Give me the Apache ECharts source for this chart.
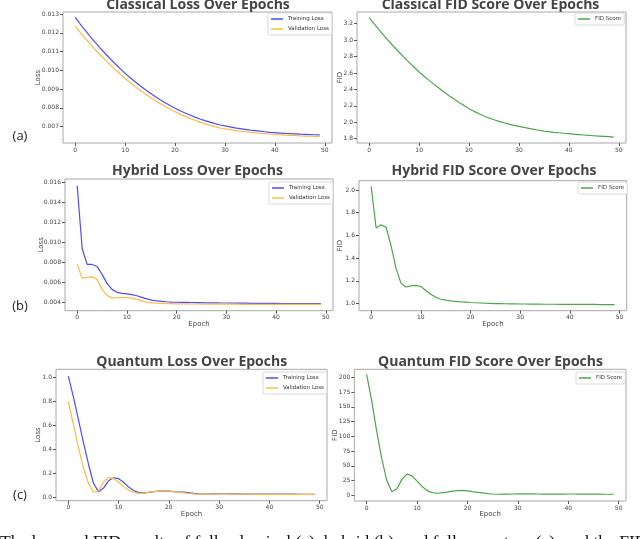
<!DOCTYPE html>
<html>
<head>
<meta charset="utf-8">
<script src="https://cdn.jsdelivr.net/npm/echarts@6/dist/echarts.min.js"></script>
<style>
  html, body { margin: 0; padding: 0; background: #fff; }
  #chart { width: 640px; height: 539px; }
</style>
</head>
<body>
<div id="chart"></div>
<script>
// epochs 0..49
const epochs = [0,1,2,3,4,5,6,7,8,9,10,11,12,13,14,15,16,17,18,19,20,21,22,23,24,
  25,26,27,28,29,30,31,32,33,34,35,36,37,38,39,40,41,42,43,44,45,46,47,48,49];

// (a) classical
const classicalTrainLoss = [0.01282,0.01247,0.01213,0.01180,0.01149,0.01119,0.01090,0.01062,0.01035,0.01009,
  0.00984,0.00961,0.00939,0.00918,0.00898,0.00879,0.00861,0.00844,0.00828,0.00813,
  0.00798,0.00785,0.00773,0.00762,0.00751,0.00741,0.00732,0.00724,0.00716,0.00709,
  0.00704,0.00699,0.00694,0.00690,0.00686,0.00682,0.00679,0.00676,0.00673,0.00670,
  0.00668,0.00666,0.00664,0.00663,0.00662,0.00660,0.00659,0.00658,0.00657,0.00656];
const classicalValLoss = [0.01236,0.01203,0.01171,0.01140,0.01111,0.01083,0.01056,0.01030,0.01005,0.00981,
  0.00957,0.00935,0.00914,0.00894,0.00875,0.00857,0.00840,0.00824,0.00809,0.00794,
  0.00780,0.00767,0.00755,0.00744,0.00734,0.00724,0.00715,0.00707,0.00700,0.00693,
  0.00688,0.00684,0.00680,0.00676,0.00673,0.00670,0.00667,0.00665,0.00663,0.00661,
  0.00659,0.00657,0.00655,0.00654,0.00653,0.00651,0.00650,0.00649,0.00648,0.00647];
const classicalFid = [3.273,3.198,3.125,3.053,2.983,2.916,2.852,2.790,2.729,2.670,
  2.612,2.560,2.510,2.461,2.414,2.368,2.324,2.282,2.242,2.203,
  2.165,2.133,2.104,2.077,2.052,2.030,2.011,1.994,1.978,1.963,
  1.950,1.937,1.925,1.914,1.903,1.893,1.885,1.878,1.872,1.866,
  1.861,1.855,1.850,1.845,1.840,1.836,1.832,1.828,1.824,1.820];

// (b) hybrid
const hybridTrainLoss = [0.0157,0.0094,0.0078,0.0078,0.0076,0.0068,0.0059,0.0053,0.0050,0.0049,
  0.00485,0.00478,0.00466,0.0045,0.00434,0.00422,0.00415,0.0041,0.00406,0.00403,
  0.00401,0.004,0.00399,0.00398,0.00397,0.00396,0.00395,0.00394,0.00394,0.00393,
  0.00393,0.00392,0.00392,0.00391,0.00391,0.0039,0.0039,0.0039,0.00389,0.00389,
  0.00389,0.00388,0.00388,0.00388,0.00388,0.00387,0.00387,0.00387,0.00387,0.00387];
const hybridValLoss = [0.00785,0.0064,0.0065,0.00655,0.0063,0.0053,0.0047,0.00445,0.00446,0.00449,
  0.00448,0.00442,0.0043,0.00414,0.00402,0.00395,0.00391,0.00389,0.00387,0.00386,
  0.00385,0.00384,0.00384,0.00383,0.00383,0.00382,0.00382,0.00382,0.00381,0.00381,
  0.00381,0.00381,0.00381,0.0038,0.0038,0.0038,0.0038,0.0038,0.0038,0.0038,
  0.0038,0.0038,0.0038,0.0038,0.0038,0.0038,0.0038,0.0038,0.0038,0.0038];
const hybridFid = [2.032,1.665,1.693,1.672,1.51,1.31,1.18,1.146,1.155,1.16,
  1.15,1.115,1.082,1.056,1.038,1.03,1.024,1.019,1.015,1.012,
  1.009,1.007,1.005,1.003,1.002,1.0,0.999,0.998,0.997,0.997,
  0.996,0.996,0.995,0.995,0.995,0.994,0.994,0.994,0.993,0.993,
  0.993,0.993,0.992,0.992,0.992,0.992,0.991,0.991,0.991,0.991];

// (c) quantum
const quantumTrainLoss = [1.01,0.84,0.65,0.46,0.28,0.12,0.05,0.08,0.14,0.165,
  0.158,0.128,0.088,0.06,0.042,0.04,0.045,0.05,0.055,0.057,
  0.055,0.051,0.048,0.046,0.041,0.036,0.032,0.03,0.03,0.032,
  0.034,0.034,0.033,0.032,0.031,0.03,0.03,0.03,0.029,0.029,
  0.029,0.029,0.029,0.029,0.03,0.029,0.028,0.028,0.028,0.028];
const quantumValLoss = [0.80,0.61,0.42,0.25,0.12,0.045,0.058,0.13,0.168,0.16,
  0.128,0.092,0.062,0.045,0.036,0.038,0.044,0.05,0.054,0.056,
  0.054,0.05,0.045,0.04,0.035,0.032,0.03,0.029,0.029,0.03,
  0.031,0.031,0.03,0.03,0.029,0.029,0.029,0.028,0.028,0.028,
  0.028,0.028,0.028,0.028,0.028,0.028,0.028,0.028,0.028,0.028];
const quantumFid = [205,160,108,62,25,6,11,27,36,33,
  24,15,8,4.5,3.5,4.5,5.5,7,8,8.2,
  7.5,6.2,5,4,3,2.2,1.8,1.9,2,2.2,
  2.5,2.5,2.4,2.3,2.2,2.1,2,2,2,2.1,
  2.2,2.2,2.1,2,2,1.9,1.9,1.8,1.8,1.8];

// tick labels
const epochTicks = [0, 10, 20, 30, 40, 50];
const classicalLossTicks = [0.007, 0.008, 0.009, 0.010, 0.011, 0.012, 0.013];
const classicalFidTicks = [1.8, 2.0, 2.2, 2.4, 2.6, 2.8, 3.0, 3.2];
const hybridLossTicks = [0.004, 0.006, 0.008, 0.010, 0.012, 0.014, 0.016];
const hybridFidTicks = [1.0, 1.2, 1.4, 1.6, 1.8, 2.0];
const quantumLossTicks = [0.0, 0.2, 0.4, 0.6, 0.8, 1.0];
const quantumFidTicks = [0, 25, 50, 75, 100, 125, 150, 175, 200];

const BLUE = '#4d4dff';
const ORANGE = '#ffbc45';
const GREEN = '#4da64d';
const FONT = 'DejaVu Sans';

const chart = echarts.init(document.getElementById('chart'));

// plot boxes (left, top, width, height)
const boxes = [
  [63, 12, 269, 131],
  [357, 12, 269, 131],
  [65, 179, 268, 131.7],
  [359, 180.7, 267.7, 130],
  [56, 369.3, 271, 131.4],
  [354.3, 369.3, 271.7, 131.7]
];

const grids = boxes.map(b => ({
  left: b[0], top: b[1], width: b[2], height: b[3],
  show: true, borderColor: '#a8a8a8', borderWidth: 1,
  containLabel: false, outerBoundsMode: 'none'
}));

const xAxes = boxes.map((b, i) => ({
  type: 'value', gridIndex: i, min: -2.45, max: 51.45, position: 'bottom',
  name: i >= 2 ? 'Epoch' : '', nameLocation: 'middle', nameGap: 10, nameMoveOverlap: false,
  nameTextStyle: { fontSize: 7, color: '#444', fontFamily: FONT },
  axisLine: { show: false, onZero: false },
  axisTick: { show: true, inside: false, length: 3, lineStyle: { color: '#555', width: 1 }, customValues: epochTicks },
  axisLabel: { fontSize: 6, color: '#444', fontFamily: FONT, margin: 4, customValues: epochTicks },
  splitLine: { show: false }
}));

function yAxis(i, min, max, ticks, digits, name, gap) {
  return {
    type: 'value', gridIndex: i, min: min, max: max, position: 'left',
    name: name, nameLocation: 'middle', nameGap: gap, nameRotate: 90, nameMoveOverlap: false,
    nameTextStyle: { fontSize: 7, color: '#444', fontFamily: FONT },
    axisLine: { show: false, onZero: false },
    axisTick: { show: true, inside: false, length: 3, lineStyle: { color: '#555', width: 1 }, customValues: ticks },
    axisLabel: {
      fontSize: 6, color: '#444', fontFamily: FONT, margin: 4, customValues: ticks,
      formatter: v => v.toFixed(digits)
    },
    splitLine: { show: false }
  };
}

const yAxes = [
  yAxis(0, 0.00613, 0.01311, classicalLossTicks, 3, 'Loss', 21),
  yAxis(1, 1.7475, 3.3425, classicalFidTicks, 1, 'FID', 13),
  yAxis(2, 0.00316, 0.01637, hybridLossTicks, 3, 'Loss', 20),
  yAxis(3, 0.937, 2.082, hybridFidTicks, 1, 'FID', 15),
  yAxis(4, -0.0249, 1.0664, quantumLossTicks, 1, 'Loss', 14),
  yAxis(5, -9.66, 213.6, quantumFidTicks, 0, 'FID', 16)
];

function line(i, name, values, color) {
  return {
    type: 'line', name: name, xAxisIndex: i, yAxisIndex: i,
    data: epochs.map((e, k) => [e, values[k]]),
    showSymbol: false, symbol: 'none',
    lineStyle: { color: color, width: 1.2 },
    itemStyle: { color: color },
    emphasis: { disabled: true }
  };
}

const series = [
  line(0, 'Training Loss', classicalTrainLoss, BLUE),
  line(0, 'Validation Loss', classicalValLoss, ORANGE),
  line(1, 'FID Score', classicalFid, GREEN),
  line(2, 'Training Loss', hybridTrainLoss, BLUE),
  line(2, 'Validation Loss', hybridValLoss, ORANGE),
  line(3, 'FID Score', hybridFid, GREEN),
  line(4, 'Training Loss', quantumTrainLoss, BLUE),
  line(4, 'Validation Loss', quantumValLoss, ORANGE),
  line(5, 'FID Score', quantumFid, GREEN)
];

function legendAt(left, top, names) {
  return {
    left: left, top: top, orient: 'vertical', data: names,
    icon: 'rect', itemWidth: 12, itemHeight: 1.5, itemGap: 4,
    padding: [3, 3, 3, 3], borderColor: '#cfcfcf', borderWidth: 0.8, borderRadius: 1.5,
    backgroundColor: '#fff', selectedMode: false,
    textStyle: { fontSize: 5.5, color: '#333', fontFamily: FONT }
  };
}

const lossNames = ['Training Loss', 'Validation Loss'];
const legends = [
  legendAt(268, 13, lossNames),
  legendAt(575, 13, ['FID Score']),
  legendAt(269, 182, lossNames),
  legendAt(578, 182, ['FID Score']),
  legendAt(263, 372, lossNames),
  legendAt(576, 372, ['FID Score'])
];

function title(text, x, y) {
  return {
    type: 'text', x: x, y: y, z: 100,
    style: { text: text, fill: '#444', font: 'bold 14px "Open Sans"', align: 'center', verticalAlign: 'middle' }
  };
}
function tag(text, y) {
  return {
    type: 'text', x: 20, y: y,
    style: { text: text, fill: '#222', font: '13px "Open Sans"', align: 'center', verticalAlign: 'middle' }
  };
}

const graphics = [
  title('Classical Loss Over Epochs', 198, 5),
  title('Classical FID Score Over Epochs', 490.5, 5),
  title('Hybrid Loss Over Epochs', 197.5, 171.5),
  title('Hybrid FID Score Over Epochs', 494, 171.5),
  title('Quantum Loss Over Epochs', 191.7, 362),
  title('Quantum FID Score Over Epochs', 490.5, 362),
  tag('(a)', 136.5),
  tag('(b)', 306.5),
  tag('(c)', 495),
  {
    type: 'text', x: 0, y: 533,
    style: {
      text: 'The loss and FID results of fully classical (a), hybrid (b), and fully quantum (c), and the FID',
      fill: '#111', font: '17.5px "Liberation Serif"', align: 'left', verticalAlign: 'top'
    }
  }
];

chart.setOption({
  animation: false,
  backgroundColor: '#fff',
  grid: grids,
  xAxis: xAxes,
  yAxis: yAxes,
  legend: legends,
  series: series,
  graphic: graphics
});
</script>
</body>
</html>
